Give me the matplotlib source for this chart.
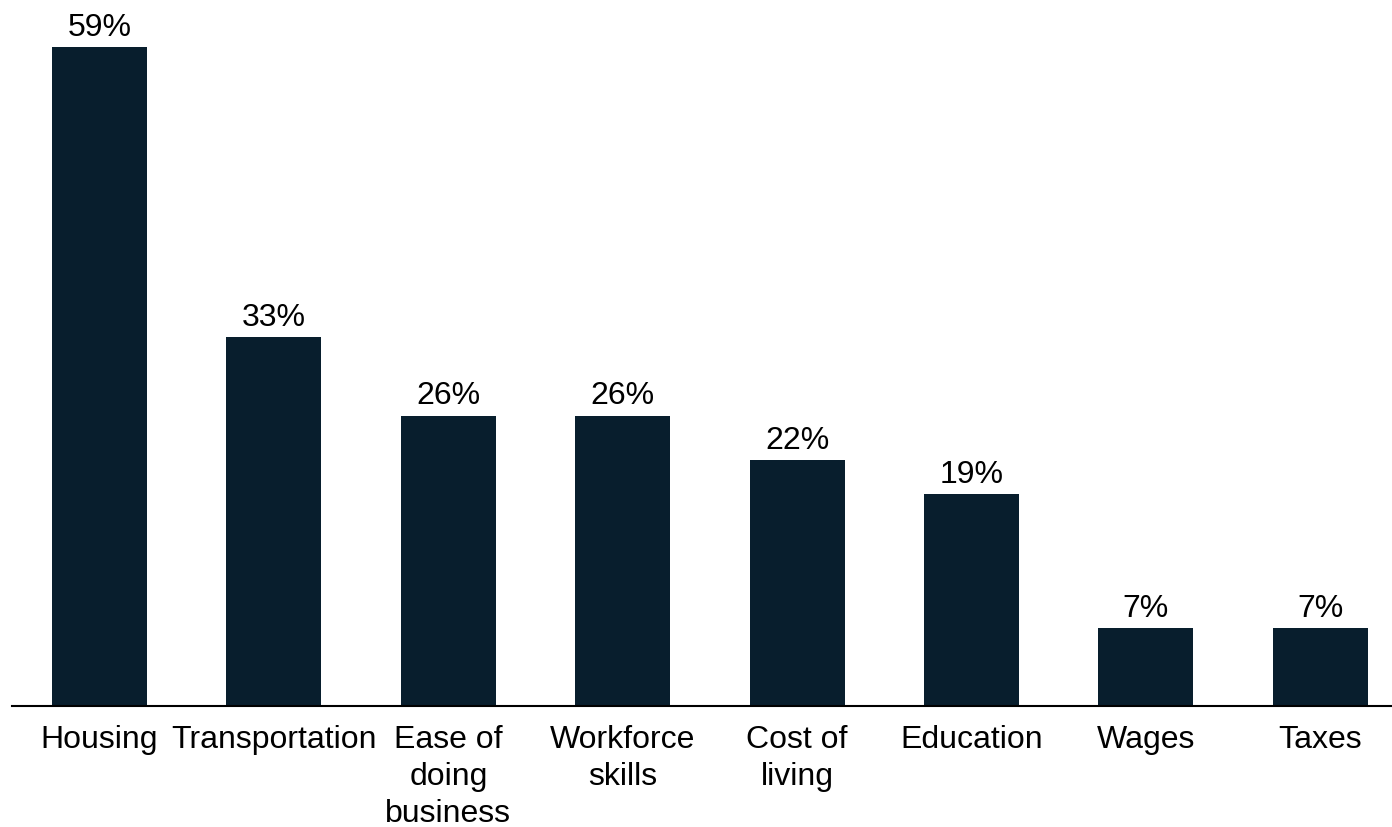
import numpy as np
import matplotlib.pyplot as plt

plt.rcParams['font.family'] = ['Liberation Sans', 'DejaVu Sans']

categories = ['Housing', 'Transportation', 'Ease of\ndoing\nbusiness', 'Workforce\nskills',
              'Cost of\nliving', 'Education', 'Wages', 'Taxes']
shares = [59, 33, 26, 26, 22, 19, 7, 7]

fig = plt.figure(figsize=(13.92, 8.27), dpi=100)
ax = fig.add_axes([12 / 1392, 121 / 827, 1 - 12 / 1392, 1 - 121 / 827])

x = np.arange(len(categories))
bars = ax.bar(x, shares, width=0.545, color='#081e2d')
ax.bar_label(bars, labels=[f'{v}%' for v in shares], padding=3, fontsize=23)

ax.set_xlim(-0.502, 7.411)
ax.set_ylim(0, 63.2)
ax.set_xticks(x)
ax.set_xticklabels(categories, fontsize=23, linespacing=1.3)
ax.tick_params(axis='x', length=0, pad=14)
ax.set_yticks([])
for side in ['top', 'right', 'left']:
    ax.spines[side].set_visible(False)
ax.spines['bottom'].set_linewidth(1.5)

fig.savefig('out.png', dpi=100)
